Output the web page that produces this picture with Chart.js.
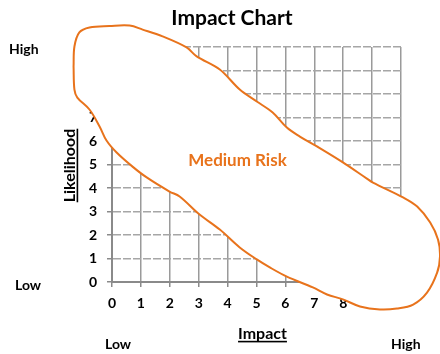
<!DOCTYPE html>
<html>
<head>
<meta charset="utf-8">
<script src="https://cdn.jsdelivr.net/npm/chart.js@4/dist/chart.umd.min.js"></script>
<style>
  body { margin: 0; background: #fff; }
  canvas { display: block; }
</style>
</head>
<body>
<canvas id="impact_chart" width="440" height="354"></canvas>
<script>
// axis range and ticks
var impactMin = 0, impactMax = 10;
var likelihoodMin = 0, likelihoodMax = 10;

// hand drawn "medium risk" boundary, in impact / likelihood units
var riskX = [-1.33, -1.30, -1.13, -0.78, -0.09, 0.61, 1.06, 1.75, 2.58, 2.93, 3.73, 4.42, 5.01,
    5.56, 6.05, 6.50, 7.09, 7.99, 8.82, 9.03, 10.07, 10.56, 11.01, 11.28, 11.35, 11.25, 10.90,
    10.42, 9.86, 9.27, 8.58, 7.99, 7.44, 6.95, 6.05, 5.46, 5.01, 4.42, 3.73, 3.03, 2.34, 1.99,
    1.20, 0.71, 0.16, -0.19, -0.43, -0.78, -1.20, -1.30, -1.33];
var riskY = [9.17, 10.02, 10.62, 10.83, 10.89, 10.91, 10.74, 10.45, 9.98, 9.60, 9.04, 8.19, 7.68,
    7.21, 6.57, 6.19, 5.77, 5.09, 4.40, 4.23, 3.60, 3.21, 2.53, 1.81, 1.09, 0.40, -0.45,
    -0.96, -1.13, -1.17, -1.04, -0.74, -0.53, -0.23, 0.23, 0.62, 0.96, 1.47, 2.23, 2.87, 3.64, 3.85,
    4.45, 4.91, 5.51, 6.02, 6.62, 7.34, 7.85, 8.19, 9.17];

var orange = '#E8731C';
var font = 'Lato, "Open Sans", sans-serif';

// white out whatever is inside the loop (grid, axis, tick labels)
var loopFill = {
    id: 'loopFill',
    beforeDatasetsDraw: function (chart) {
        var line = chart.getDatasetMeta(0).dataset;
        var ctx = chart.ctx;
        ctx.save();
        ctx.beginPath();
        line.path(ctx);
        ctx.closePath();
        ctx.fillStyle = '#fff';
        ctx.fill();
        ctx.restore();
    }
};

var labels = {
    id: 'labels',
    afterDraw: function (chart) {
        var ctx = chart.ctx;
        ctx.save();
        ctx.fillStyle = '#000';
        ctx.textBaseline = 'alphabetic';

        ctx.font = 'bold 21px ' + font;
        ctx.textAlign = 'center';
        ctx.fillText('Impact Chart', 232, 25);

        ctx.font = 'bold 14px ' + font;
        ctx.textAlign = 'left';
        ctx.fillText('High', 9, 53.5);
        ctx.fillText('Low', 15, 289.5);
        ctx.fillText('Low', 105, 349);
        ctx.fillText('High', 391, 349);

        ctx.font = 'bold 16px ' + font;
        ctx.textAlign = 'center';
        var w = ctx.measureText('Impact').width;
        ctx.fillText('Impact', 262.5, 339);
        ctx.fillRect(262.5 - w / 2, 340.8, w, 1.6);

        ctx.save();
        ctx.translate(75, 165.5);
        ctx.rotate(-Math.PI / 2);
        w = ctx.measureText('Likelihood').width;
        ctx.fillText('Likelihood', 0, 0);
        ctx.fillRect(-w / 2, 1.6, w, 1.6);
        ctx.restore();

        ctx.fillStyle = orange;
        ctx.font = 'bold 17px ' + font;
        ctx.fillText('Medium Risk', 237.5, 166);
        ctx.restore();
    }
};

var chart = new Chart(document.getElementById('impact_chart'), {
    type: 'scatter',
    data: {
        datasets: [{
            data: riskX.map(function (x, i) { return { x: x, y: riskY[i] }; }),
            showLine: true,
            borderColor: orange,
            borderWidth: 2,
            tension: 0.35,
            pointRadius: 0,
            fill: false,
            clip: false
        }]
    },
    options: {
        responsive: false,
        animation: false,
        events: [],
        layout: { padding: { top: 47, right: 39, bottom: 0, left: 0 } },
        elements: { line: { capBezierPoints: false } },
        plugins: { legend: { display: false }, tooltip: { enabled: false } },
        scales: {
            x: {
                type: 'linear',
                min: impactMin,
                max: impactMax,
                afterFit: function (scale) { scale.height = 72; },
                ticks: { stepSize: 1, padding: 8, color: '#000', font: { family: font, size: 14, weight: 'bold' } },
                grid: { color: '#9a9a9a', lineWidth: 1.5, tickLength: 5, tickColor: '#8a8a8a' },
                border: { color: '#8a8a8a', width: 2 }
            },
            y: {
                min: likelihoodMin,
                max: likelihoodMax,
                afterFit: function (scale) { scale.width = 112; },
                ticks: { stepSize: 1, padding: 10, color: '#000', font: { family: font, size: 14, weight: 'bold' } },
                grid: { color: '#a6a6a6', lineWidth: 1.5, tickLength: 5, tickColor: '#8a8a8a' },
                border: { color: '#8a8a8a', width: 2, dash: [8, 2] }
            }
        }
    },
    plugins: [loopFill, labels]
});
</script>
</body>
</html>
